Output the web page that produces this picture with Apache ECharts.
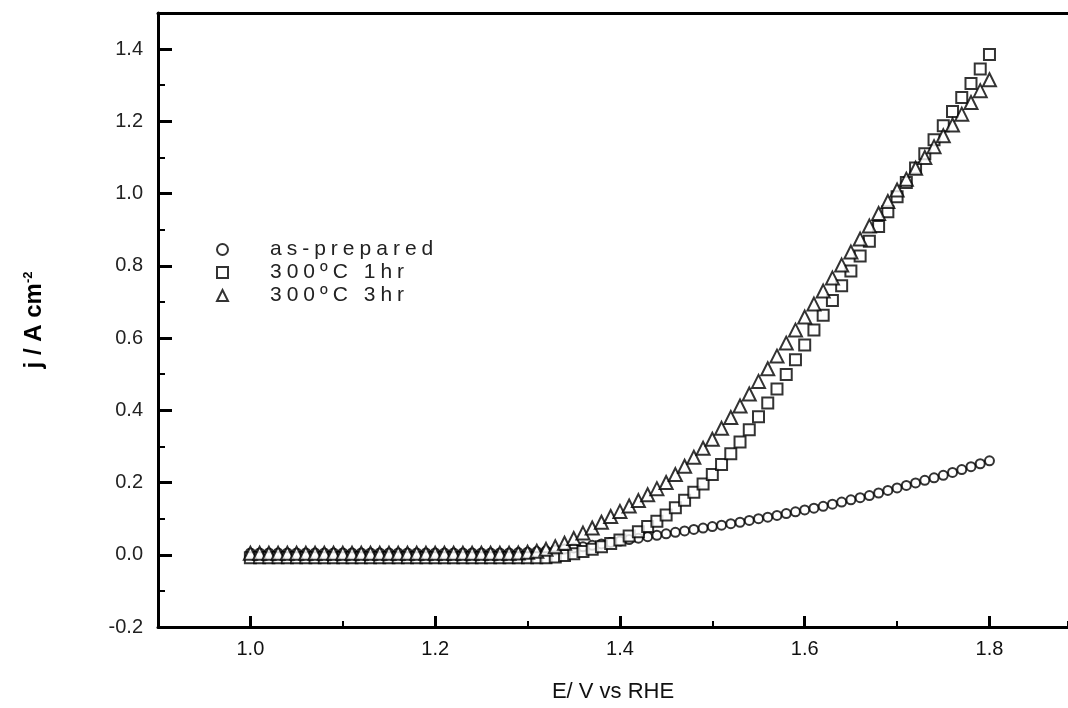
<!DOCTYPE html>
<html>
<head>
<meta charset="utf-8">
<script src="https://cdn.jsdelivr.net/npm/echarts@6/dist/echarts.min.js"></script>
<style>
html, body { margin: 0; padding: 0; background: #fff; }
#main { width: 1068px; height: 708px; }
</style>
</head>
<body>
<div id="main"></div>
<script>
// potential, V vs RHE (one point every 10 mV)
var potential = [
	1.00, 1.01, 1.02, 1.03, 1.04, 1.05, 1.06, 1.07, 1.08, 1.09,
	1.10, 1.11, 1.12, 1.13, 1.14, 1.15, 1.16, 1.17, 1.18, 1.19,
	1.20, 1.21, 1.22, 1.23, 1.24, 1.25, 1.26, 1.27, 1.28, 1.29,
	1.30, 1.31, 1.32, 1.33, 1.34, 1.35, 1.36, 1.37, 1.38, 1.39,
	1.40, 1.41, 1.42, 1.43, 1.44, 1.45, 1.46, 1.47, 1.48, 1.49,
	1.50, 1.51, 1.52, 1.53, 1.54, 1.55, 1.56, 1.57, 1.58, 1.59,
	1.60, 1.61, 1.62, 1.63, 1.64, 1.65, 1.66, 1.67, 1.68, 1.69,
	1.70, 1.71, 1.72, 1.73, 1.74, 1.75, 1.76, 1.77, 1.78, 1.79,
	1.80
];
// current density, A cm-2
var asPrepared = [
	0.005, 0.005, 0.005, 0.005, 0.005, 0.005, 0.005, 0.005, 0.005, 0.005,
	0.005, 0.005, 0.005, 0.005, 0.005, 0.005, 0.005, 0.005, 0.005, 0.005,
	0.005, 0.005, 0.005, 0.005, 0.005, 0.005, 0.005, 0.005, 0.005, 0.006,
	0.007, 0.009, 0.011, 0.013, 0.016, 0.019, 0.022, 0.026, 0.030, 0.034,
	0.038, 0.042, 0.046, 0.050, 0.054, 0.058, 0.062, 0.066, 0.070, 0.074,
	0.078, 0.082, 0.086, 0.090, 0.095, 0.100, 0.104, 0.109, 0.114, 0.119,
	0.124, 0.129, 0.134, 0.140, 0.146, 0.152, 0.158, 0.164, 0.171, 0.178,
	0.185, 0.192, 0.199, 0.206, 0.213, 0.220, 0.228, 0.236, 0.244, 0.252,
	0.260
];
var t300c1hr = [
	-0.008, -0.008, -0.008, -0.008, -0.008, -0.008, -0.008, -0.008, -0.008, -0.008,
	-0.008, -0.008, -0.008, -0.008, -0.008, -0.008, -0.008, -0.008, -0.008, -0.008,
	-0.008, -0.008, -0.008, -0.008, -0.008, -0.008, -0.008, -0.008, -0.008, -0.008,
	-0.008, -0.008, -0.008, -0.006, -0.002, 0.003, 0.009, 0.015, 0.022, 0.031,
	0.041, 0.052, 0.064, 0.078, 0.093, 0.110, 0.130, 0.151, 0.173, 0.196,
	0.222, 0.250, 0.280, 0.312, 0.346, 0.382, 0.420, 0.459, 0.499, 0.540,
	0.581, 0.622, 0.663, 0.704, 0.745, 0.786, 0.827, 0.868, 0.909, 0.950,
	0.991, 1.031, 1.071, 1.110, 1.149, 1.188, 1.227, 1.266, 1.305, 1.345,
	1.385
];
var t300c3hr = [
	0.004, 0.004, 0.004, 0.004, 0.004, 0.004, 0.004, 0.004, 0.004, 0.004,
	0.004, 0.004, 0.004, 0.004, 0.004, 0.004, 0.004, 0.004, 0.004, 0.004,
	0.004, 0.004, 0.004, 0.004, 0.004, 0.004, 0.004, 0.004, 0.004, 0.005,
	0.007, 0.010, 0.015, 0.022, 0.032, 0.045, 0.060, 0.074, 0.090, 0.106,
	0.120, 0.135, 0.150, 0.166, 0.183, 0.200, 0.222, 0.245, 0.270, 0.295,
	0.320, 0.350, 0.380, 0.412, 0.445, 0.480, 0.515, 0.550, 0.586, 0.622,
	0.658, 0.694, 0.730, 0.766, 0.802, 0.838, 0.874, 0.910, 0.945, 0.978,
	1.010, 1.040, 1.070, 1.100, 1.130, 1.160, 1.190, 1.220, 1.252, 1.285,
	1.315
];
var seriesNames = ['as-prepared', '300ºC 1hr', '300ºC 3hr'];
var xMajorTicks = [1.0, 1.2, 1.4, 1.6, 1.8];
var yMajorTicks = [-0.2, 0.0, 0.2, 0.4, 0.6, 0.8, 1.0, 1.2, 1.4];

function pairs(xs, ys) {
	var out = [];
	for (var i = 0; i < xs.length; i++) out.push([xs[i], ys[i]]);
	return out;
}

// legend text in the original is letter-spaced; canvas can do it, echarts can't,
// so legend labels use the "Arial" alias and get spacing at draw time
var _fillText = CanvasRenderingContext2D.prototype.fillText;
CanvasRenderingContext2D.prototype.fillText = function (t, x, y, w) {
	var old = this.letterSpacing;
	if (this.font.indexOf('Arial') >= 0) this.letterSpacing = '5px';
	var r = w === undefined ? _fillText.call(this, t, x, y) : _fillText.call(this, t, x, y, w);
	this.letterSpacing = old;
	return r;
};

var myChart = echarts.init(document.getElementById('main'), null, { renderer: 'canvas' });

var labelFont = 'Liberation Sans';
var xMax = 1.885; // the plot box is cut off by the right edge of the picture

var option = {
	backgroundColor: '#fff',
	animation: false,
	grid: {
		left: 158,
		top: 13,
		right: 0,
		bottom: 81
	},
	legend: {
		orient: 'vertical',
		left: 211,
		top: 234,
		itemWidth: 11,
		itemHeight: 11,
		itemGap: 2,
		textStyle: { fontFamily: 'Arial', fontSize: 21, color: '#222', padding: [0, 0, 0, 37] },
		data: [
			{ name: seriesNames[0], icon: 'emptyCircle' },
			{ name: seriesNames[1], icon: 'emptyRect' },
			{ name: seriesNames[2], icon: 'emptyTriangle' }
		]
	},
	xAxis: [
		{
			type: 'value',
			min: 0.9,
			max: xMax,
			name: 'E/ V vs RHE',
			nameLocation: 'middle',
			nameGap: 54,
			nameTextStyle: { fontFamily: labelFont, fontSize: 22, color: '#111' },
			axisLine: { onZero: false, lineStyle: { color: '#000', width: 3 } },
			axisTick: { inside: true, length: 11, customValues: xMajorTicks, lineStyle: { color: '#000', width: 3 } },
			axisLabel: {
				customValues: xMajorTicks,
				margin: 12,
				fontFamily: labelFont,
				fontSize: 20,
				color: '#111',
				formatter: function (v) { return v.toFixed(1); }
			},
			splitLine: { show: false }
		},
		{
			// short ticks every 0.1
			type: 'value',
			position: 'bottom',
			min: 0.9,
			max: xMax,
			interval: 0.1,
			axisLine: { show: false, onZero: false },
			axisTick: { inside: true, length: 6, lineStyle: { color: '#000', width: 2 } },
			axisLabel: { show: false },
			splitLine: { show: false }
		},
		{
			// top frame line
			type: 'value',
			position: 'top',
			min: 0.9,
			max: xMax,
			axisLine: { onZero: false, lineStyle: { color: '#000', width: 3 } },
			axisTick: { show: false },
			axisLabel: { show: false },
			splitLine: { show: false }
		}
	],
	yAxis: [
		{
			type: 'value',
			min: -0.2,
			max: 1.5,
			name: '{a|j / A cm}{s|-2}',
			nameLocation: 'middle',
			nameGap: 112,
			nameRotate: 90,
			nameTextStyle: {
				rich: {
					a: { fontFamily: labelFont, fontWeight: 'bold', fontSize: 24, color: '#000' },
					s: { fontFamily: labelFont, fontWeight: 'bold', fontSize: 13, color: '#000', verticalAlign: 'top' }
				}
			},
			axisLine: { onZero: false, lineStyle: { color: '#000', width: 3 } },
			axisTick: { inside: true, length: 14, customValues: yMajorTicks, lineStyle: { color: '#000', width: 3 } },
			axisLabel: {
				customValues: yMajorTicks,
				margin: 15,
				fontFamily: labelFont,
				fontSize: 20,
				color: '#222',
				formatter: function (v) { return v.toFixed(1); }
			},
			splitLine: { show: false }
		},
		{
			// short ticks every 0.1
			type: 'value',
			position: 'left',
			min: -0.2,
			max: 1.5,
			interval: 0.1,
			axisLine: { show: false, onZero: false },
			axisTick: { inside: true, length: 7, lineStyle: { color: '#000', width: 2 } },
			axisLabel: { show: false },
			splitLine: { show: false }
		}
	],
	series: [
		{
			name: seriesNames[0],
			type: 'scatter',
			symbol: 'emptyCircle',
			symbolSize: 9,
			itemStyle: { color: '#000', borderWidth: 1.2 },
			data: pairs(potential, asPrepared)
		},
		{
			name: seriesNames[1],
			type: 'scatter',
			symbol: 'emptyRect',
			symbolSize: 11,
			itemStyle: { color: '#000', borderWidth: 1.5 },
			data: pairs(potential, t300c1hr)
		},
		{
			name: seriesNames[2],
			type: 'scatter',
			symbol: 'emptyTriangle',
			symbolSize: 13,
			itemStyle: { color: '#000', borderWidth: 1.2 },
			data: pairs(potential, t300c3hr)
		}
	]
};

myChart.setOption(option);
</script>
</body>
</html>
